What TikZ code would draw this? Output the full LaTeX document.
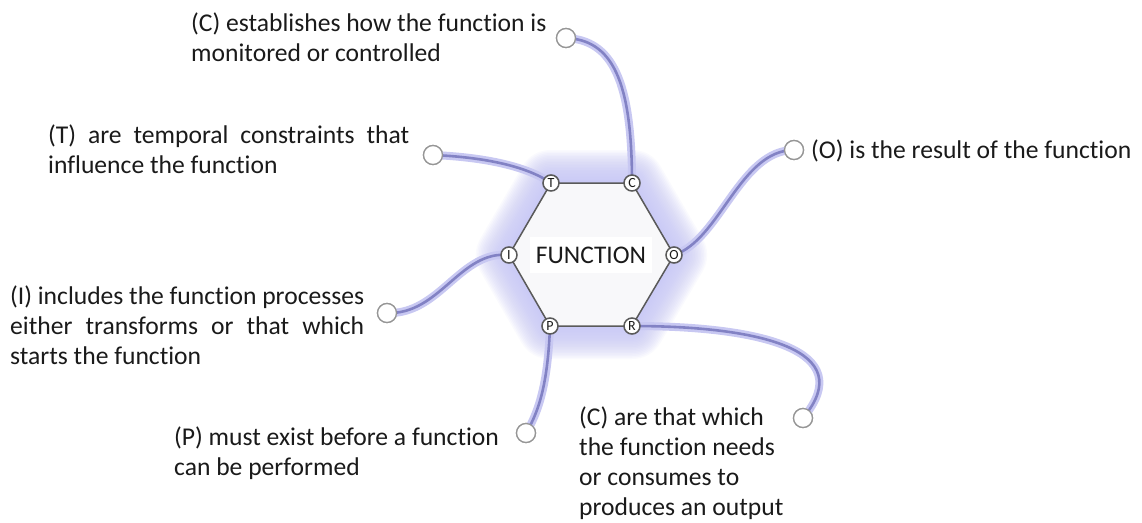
\documentclass[tikz,border=0pt]{standalone}
\usepackage{fontspec}
\setmainfont{Carlito}[Ligatures={NoCommon,NoRequired}]
\definecolor{glowc}{RGB}{200,200,246}
\definecolor{halo}{RGB}{200,200,242}
\definecolor{core}{RGB}{130,130,196}
\definecolor{edgegray}{RGB}{90,90,90}
\definecolor{ringgray}{RGB}{150,150,150}
\definecolor{inkc}{RGB}{26,26,26}
\begin{document}
\begin{tikzpicture}[x=1pt,y=-1pt,
  port/.style={circle,draw=edgegray,fill=white,line width=1.5pt,minimum size=16pt,inner sep=0pt,
    font=\fontsize{14}{14}\selectfont,text=inkc},
  endpt/.style={circle,draw=ringgray,fill=white,line width=1.3pt,minimum size=19pt,inner sep=0pt},
  wire/.style={draw=core,line width=2.6pt,line cap=round,preaction={draw=halo,line width=8pt,line cap=round}},
  hexedge/.style={draw=edgegray,line width=1.5pt,fill={rgb,255:red,248;green,248;blue,250}},
  glowline/.style={draw=glowc,line join=round,opacity=0.09},
  label/.style={anchor=north west,align=left,inner sep=0pt,text=inkc,font=\fontsize{25.6}{30}\selectfont}]
\useasboundingbox (0,0) rectangle (1142,522);
\fill[white] (0,0) rectangle (1142,522);

% ports on the hexagon corners
\node[port] (pT) at (551,183) {T};
\node[port] (pC) at (632,183) {C};
\node[port] (pO) at (674,255) {O};
\node[port] (pR) at (632,326) {R};
\node[port] (pP) at (550,326) {P};
\node[port] (pI) at (509,255) {I};

% soft halo around the hexagon
\foreach \w in {3,6,...,66}
  \draw[glowline,line width=\w pt] (pT.center) -- (pC.center) -- (pO.center) -- (pR.center) -- (pP.center) -- (pI.center) -- cycle;

% free ends of the connectors
\node[endpt] (eC) at (566,38) {};
\node[endpt] (eT) at (433,155) {};
\node[endpt] (eO) at (794,150) {};
\node[endpt] (eI) at (387,313) {};
\node[endpt] (eP) at (526,433) {};
\node[endpt] (eR) at (803,418) {};

% connectors
\draw[wire] (pC.center) .. controls (632,80) and (612,40) .. (eC.center);
\draw[wire] (pT.center) .. controls (525,165) and (480,157) .. (eT.center);
\draw[wire] (pO.center) .. controls (720,240) and (740,150) .. (eO.center);
\draw[wire] (pI.center) .. controls (460,250) and (440,315) .. (eI.center);
\draw[wire] (pP.center) .. controls (548,380) and (540,410) .. (eP.center);
\draw[wire] (pR.center) .. controls (760,326) and (860,350) .. (eR.center);

% hexagon
\draw[hexedge] (pT.center) -- (pC.center) -- (pO.center) -- (pR.center) -- (pP.center) -- (pI.center) -- cycle;
\node[fill=white,inner xsep=6pt,inner ysep=10pt,text=inkc,font=\fontsize{25.4}{25.4}\selectfont] (fn) at (591,255) {FUNCTION};

% redraw ports and ends above everything
\foreach \n/\t in {pT/T,pC/C,pO/O,pR/R,pP/P,pI/I} \node[port] at (\n) {\t};
\foreach \n in {eC,eT,eO,eI,eP,eR} \node[endpt] at (\n) {};

% descriptions
\node[label] (tC) at (191,12.5) {(C) establishes how the function is\\monitored or controlled};
\node[label] (tT) at (48,124.5) {\makebox[361pt][s]{(T) are temporal constraints that}\\influence the function};
\node[label] (tO) at (811,139.5) {(O) is the result of the function};
\node[label] (tI) at (10,285.5) {\makebox[354pt][s]{(I) includes the function processes}\\\makebox[354pt][s]{either transforms or that which}\\starts the function};
\node[label] (tP) at (174,426.5) {(P) must exist before a function\\can be performed};
\node[label] (tR) at (579,406.5) {(C) are that which\\the function needs\\or consumes to\\produces an output};
\end{tikzpicture}
\end{document}
